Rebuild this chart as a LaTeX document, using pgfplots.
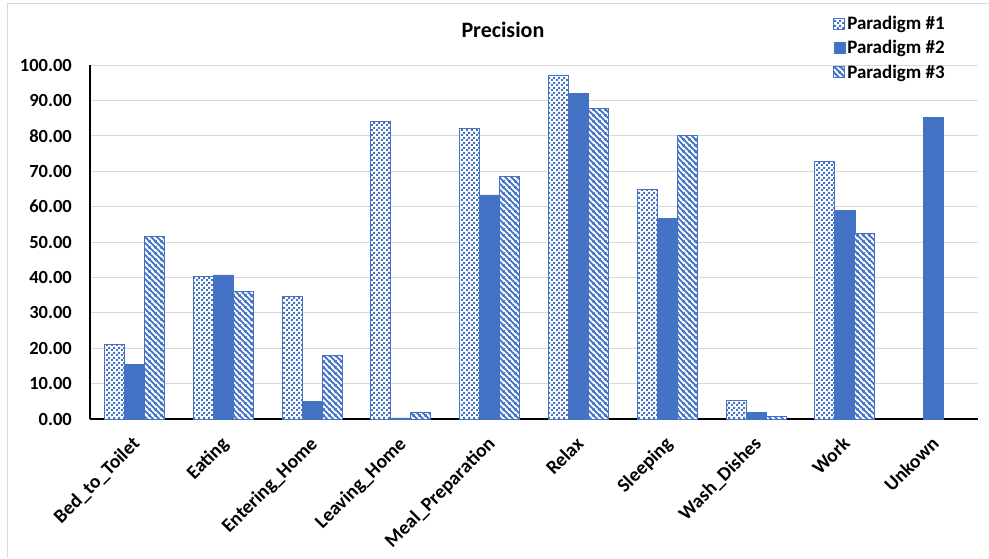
\documentclass[border=0pt]{standalone}
\usepackage{pgfplots}
\pgfplotsset{compat=1.18}
\usepackage{fontspec}
\setmainfont{Carlito}
\usetikzlibrary{patterns}
\definecolor{xblue}{HTML}{4472C4}
\definecolor{xgrid}{HTML}{D9D9D9}
\pgfdeclarepatternformonly{xnw}{\pgfqpoint{0pt}{0pt}}{\pgfqpoint{6pt}{6pt}}{\pgfqpoint{6pt}{6pt}}{%
  \pgfsetlinewidth{2.1pt}%
  \pgfpathmoveto{\pgfqpoint{-1pt}{7pt}}\pgfpathlineto{\pgfqpoint{7pt}{-1pt}}%
  \pgfpathmoveto{\pgfqpoint{-1pt}{1pt}}\pgfpathlineto{\pgfqpoint{1pt}{-1pt}}%
  \pgfpathmoveto{\pgfqpoint{5pt}{7pt}}\pgfpathlineto{\pgfqpoint{7pt}{5pt}}%
  \pgfusepath{stroke}}
\pgfdeclarepatternformonly{xdots}{\pgfqpoint{0pt}{0pt}}{\pgfqpoint{4.6pt}{4.6pt}}{\pgfqpoint{4.6pt}{4.6pt}}{%
  \pgfpathrectangle{\pgfqpoint{0pt}{0pt}}{\pgfqpoint{2.1pt}{2.1pt}}%
  \pgfpathrectangle{\pgfqpoint{2.3pt}{2.3pt}}{\pgfqpoint{2.1pt}{2.1pt}}%
  \pgfusepath{fill}}
\begin{document}
\begin{tikzpicture}
\useasboundingbox (0,0) rectangle (989pt,558pt);
\draw[xgrid, line width=1pt] (7pt,0pt) -- (7pt,554pt) -- (989pt,554pt);
\begin{axis}[
  at={(90pt,139pt)}, anchor=south west,
  scale only axis, width=888pt, height=354pt,
  xmin=-0.5, xmax=9.5, ymin=0, ymax=100,
  ybar=0pt, bar width=20pt,
  ytick={0,10,...,100},
  xtick={0,...,9},
  xticklabels={Bed\_to\_Toilet,Eating,Entering\_Home,Leaving\_Home,Meal\_Preparation,Relax,Sleeping,Wash\_Dishes,Work,Unkown},
  ymajorgrids, grid style={xgrid, line width=1pt},
  axis x line*=bottom, axis y line*=left,
  axis line style={black, line width=1.5pt, -},
  major tick length=0pt,
  /pgf/number format/.cd, fixed, fixed zerofill, precision=2, assume math mode=true, /pgfplots/.cd,
  yticklabel style={font=\fontsize{18.5}{20}\selectfont\bfseries, anchor=east, inner sep=0pt, xshift=-18pt},
  xticklabel style={font=\fontsize{19.5}{22}\selectfont\bfseries, rotate=45, anchor=north east, inner sep=0pt, xshift=-13.8pt, yshift=-9pt},
  title={Precision},
  title style={at={(0.465,1.082)}, anchor=center, font=\fontsize{22}{24}\selectfont\bfseries},
  legend style={at={(0.837,1.144)}, anchor=north west, draw=none, fill=none,
    font=\fontsize{19}{22}\selectfont\bfseries, row sep=5.5pt, inner sep=0pt, cells={anchor=west}},
  legend image code/.code={\draw[#1] (0pt,-5.5pt) rectangle (11pt,5.5pt);},
]
\addplot[draw=xblue, line width=0.8pt, fill=white, postaction={pattern=xdots, pattern color=xblue}] coordinates {
(0,21.0) (1,40.2) (2,34.5) (3,84.0) (4,82.2) (5,97.2) (6,64.8) (7,5.2) (8,72.8)};
\addplot[draw=xblue, line width=0.5pt, fill=xblue] coordinates {
(0,15.5) (1,40.7) (2,5.0) (3,0.3) (4,63.3) (5,91.9) (6,56.7) (7,1.9) (8,59.0) (9,85.1)};
\addplot[draw=xblue, line width=0.8pt, fill=white, postaction={pattern=xnw, pattern color=xblue}] coordinates {
(0,51.6) (1,36.0) (2,18.0) (3,2.0) (4,68.6) (5,87.6) (6,80.1) (7,0.7) (8,52.4)};
\legend{Paradigm \#1,Paradigm \#2,Paradigm \#3}
\end{axis}
\end{tikzpicture}
\end{document}
